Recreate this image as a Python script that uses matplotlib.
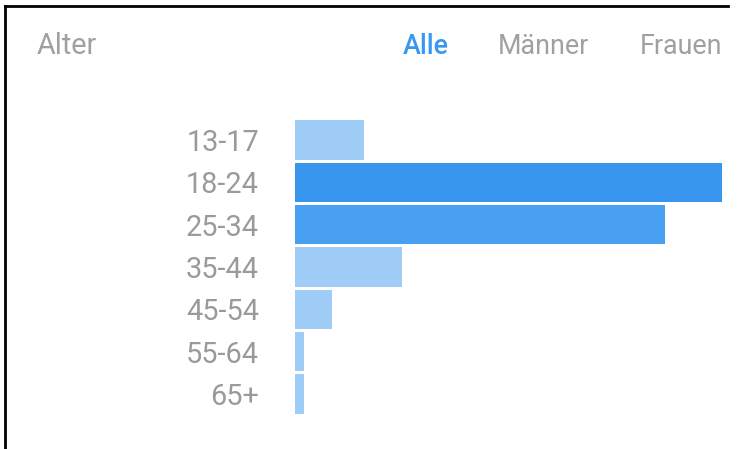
import matplotlib.pyplot as plt
from matplotlib.lines import Line2D

# Age distribution (share of followers, %)
age_groups = ['13-17', '18-24', '25-34', '35-44', '45-54', '55-64', '65+']
shares = [6.7, 41.5, 36.0, 10.4, 3.6, 0.9, 0.9]
bar_colors = ['#9fcdf8', '#3896ef', '#4aa0f0', '#9fcdf8', '#9fcdf8', '#9fcdf8', '#9fcdf8']

tabs = ['Alle', 'Männer', 'Frauen']
tab_x = [0.5377, 0.6649, 0.8545]
tab_colors = ['#3897f0', '#a0a0a0', '#a0a0a0']

plt.rcParams['font.family'] = ['Roboto', 'DejaVu Sans']

fig = plt.figure(figsize=(7.49, 4.49), dpi=100)
fig.patch.set_facecolor('white')

# screenshot frame (black edges top/left)
fig.add_artist(Line2D([0.007, 0.972], [0.987, 0.987], color='black', lw=2, transform=fig.transFigure))
fig.add_artist(Line2D([0.007, 0.007], [0.0, 0.987], color='black', lw=2, transform=fig.transFigure))

ax = fig.add_axes((295 / 749, 1 - 414 / 449, (722 - 295) / 749, 294 / 449))
ypos = list(range(len(age_groups)))
ax.barh(ypos, shares, height=0.93, color=bar_colors, edgecolor='none')
ax.set_xlim(0, max(shares))
ax.set_ylim(6.47, -0.47)
ax.set_yticks(ypos)
ax.set_yticklabels(age_groups, fontsize=20.8, color='#9a9a9a')
ax.tick_params(axis='y', length=0, pad=26)
ax.set_xticks([])
for s in ax.spines.values():
    s.set_visible(False)

fig.text(37 / 749, 1 - 46 / 449, 'Alter', fontsize=20.8, color='#a0a0a0', va='center', ha='left')
for name, x, c in zip(tabs, tab_x, tab_colors):
    fig.text(x, 1 - 46 / 449, name, fontsize=19.4, color=c, va='center', ha='left',
             fontweight='medium' if name == 'Alle' else 'normal')

fig.savefig('out.png', dpi=100, facecolor='white')
